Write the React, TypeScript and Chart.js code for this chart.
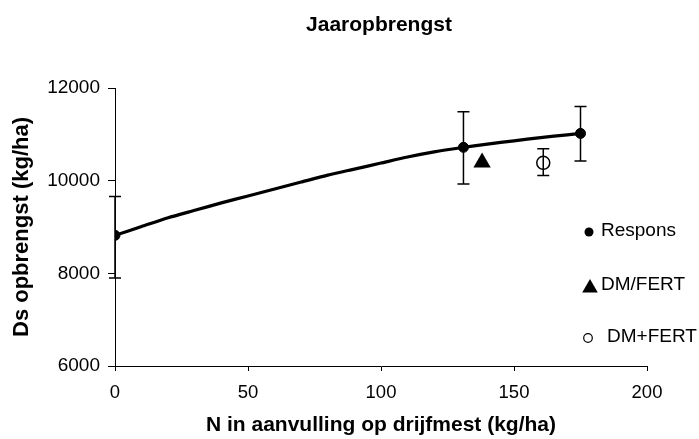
import React, { useEffect, useRef } from "react";
import { Chart, registerables } from "chart.js";

Chart.register(...registerables);

const chartTitle = "Jaaropbrengst";
const xTitle = "N in aanvulling op drijfmest (kg/ha)";
const yTitle = "Ds opbrengst (kg/ha)";
const legendLabels = ["Respons", "DM/FERT", "DM+FERT"];

// response curve
const curveN = [0, 10, 20, 30, 40, 50, 60, 70, 80, 90, 100, 110, 120, 130, 140, 150, 160, 170, 175];
const curveY = [8820, 9010, 9200, 9360, 9520, 9670, 9820, 9970, 10120, 10250, 10380, 10510, 10620, 10710, 10790, 10860, 10930, 10990, 11020];

// measured response points with error bars
const responsN = [0, 131, 175];
const responsY = [8820, 10720, 11020];
const responsLow = [7900, 9930, 10425];
const responsHigh = [9660, 11490, 11600];

// DM/FERT
const dmSlashN = [138];
const dmSlashY = [10390];

// DM+FERT
const dmPlusN = [161];
const dmPlusY = [10385];
const dmPlusLow = [10110];
const dmPlusHigh = [10690];

const xMin = 0, xMax = 200, xStep = 50;
const yMin = 6000, yMax = 12000, yStep = 2000;

const FONT = "'Liberation Sans', Arial, sans-serif";

const toPts = (xs: number[], ys: number[]) => xs.map((x, i) => ({ x, y: ys[i] }));

const errorBarPlugin = {
  id: "errorBars",
  afterDatasetsDraw(chart: any) {
    const { ctx, scales } = chart;
    const sx = scales.x, sy = scales.y;
    const draw = (xs: number[], lo: number[], hi: number[]) => {
      xs.forEach((x, i) => {
        const px = sx.getPixelForValue(x);
        const p1 = sy.getPixelForValue(lo[i]);
        const p2 = sy.getPixelForValue(hi[i]);
        ctx.save();
        ctx.strokeStyle = "#000";
        ctx.lineWidth = 1.5;
        ctx.beginPath();
        ctx.moveTo(px, p1);
        ctx.lineTo(px, p2);
        ctx.moveTo(px - 6, p1);
        ctx.lineTo(px + 6, p1);
        ctx.moveTo(px - 6, p2);
        ctx.lineTo(px + 6, p2);
        ctx.stroke();
        ctx.restore();
      });
    };
    draw(responsN, responsLow, responsHigh);
    draw(dmPlusN, dmPlusLow, dmPlusHigh);
  },
};

const titleLegendPlugin = {
  id: "titleLegend",
  afterDraw(chart: any) {
    const { ctx, chartArea } = chart;
    ctx.save();
    ctx.fillStyle = "#000";
    ctx.textBaseline = "middle";
    ctx.textAlign = "center";
    ctx.font = `bold 21px ${FONT}`;
    ctx.fillText(chartTitle, (chartArea.left + chartArea.right) / 2 - 2, 25);

    ctx.textAlign = "left";
    ctx.font = `19px ${FONT}`;
    // Respons
    ctx.beginPath();
    ctx.arc(589, 232, 4.5, 0, Math.PI * 2);
    ctx.fill();
    ctx.fillText(legendLabels[0], 601, 231);
    // DM/FERT
    const r = 9, cx = 590, cy = 288;
    ctx.beginPath();
    ctx.moveTo(cx, cy - r);
    ctx.lineTo(cx + Math.sin((2 * Math.PI) / 3) * r, cy - Math.cos((2 * Math.PI) / 3) * r);
    ctx.lineTo(cx + Math.sin((4 * Math.PI) / 3) * r, cy - Math.cos((4 * Math.PI) / 3) * r);
    ctx.closePath();
    ctx.fill();
    ctx.fillText(legendLabels[1], 601, 285);
    // DM+FERT
    ctx.beginPath();
    ctx.arc(588, 338, 4.3, 0, Math.PI * 2);
    ctx.fillStyle = "#fff";
    ctx.fill();
    ctx.lineWidth = 1.2;
    ctx.strokeStyle = "#000";
    ctx.stroke();
    ctx.fillStyle = "#000";
    ctx.fillText(legendLabels[2], 607, 337);
    ctx.restore();
  },
};

export default function App() {
  const ref = useRef<HTMLCanvasElement | null>(null);

  useEffect(() => {
    document.body.style.margin = "0";
    Chart.defaults.font.family = FONT;
    Chart.defaults.color = "#000";
    const chart = new Chart(ref.current as HTMLCanvasElement, {
      type: "scatter",
      data: {
        datasets: [
          {
            label: "curve",
            data: toPts(curveN, curveY),
            showLine: true,
            borderColor: "#000",
            borderWidth: 3.2,
            pointRadius: 0,
            tension: 0.2,
          },
          {
            label: legendLabels[0],
            data: toPts(responsN, responsY),
            pointRadius: 5,
            pointStyle: "circle",
            backgroundColor: "#000",
            borderColor: "#000",
          },
          {
            label: legendLabels[1],
            data: toPts(dmSlashN, dmSlashY),
            pointRadius: 10,
            pointStyle: "triangle",
            backgroundColor: "#000",
            borderColor: "#000",
            borderWidth: 0,
          },
          {
            label: legendLabels[2],
            data: toPts(dmPlusN, dmPlusY),
            pointRadius: 6.5,
            pointStyle: "circle",
            backgroundColor: "#fff",
            borderColor: "#000",
            borderWidth: 1.5,
          },
        ] as any,
      },
      options: {
        animation: false,
        responsive: false,
        devicePixelRatio: 1,
        layout: { padding: { top: 88, right: 52, bottom: 0, left: 0 } },
        plugins: {
          legend: { display: false },
          tooltip: { enabled: false },
          title: { display: false },
        },
        scales: {
          x: {
            type: "linear",
            min: xMin,
            max: xMax,
            ticks: {
              stepSize: xStep,
              padding: 11,
              font: { size: 18.5 },
              color: "#000",
              callback: (v: any) => String(v),
            },
            grid: { drawOnChartArea: false, drawTicks: true, tickLength: 5, color: "#000" },
            border: { display: true, color: "#000", width: 1 },
            title: {
              display: true,
              text: xTitle,
              font: { size: 21, weight: "bold" },
              color: "#000",
              padding: { top: 0, bottom: 1 },
            },
            afterFit: (s: any) => {
              s.height = 73;
            },
          },
          y: {
            type: "linear",
            min: yMin,
            max: yMax,
            ticks: {
              stepSize: yStep,
              padding: 8,
              font: { size: 19 },
              color: "#000",
              callback: (v: any) => String(v),
            },
            grid: { drawOnChartArea: false, drawTicks: true, tickLength: 7, color: "#000" },
            border: { display: true, color: "#000", width: 1 },
            title: {
              display: true,
              text: yTitle,
              font: { size: 22, weight: "bold" },
              color: "#000",
              padding: { top: 9, bottom: 0 },
            },
            afterFit: (s: any) => {
              s.width = 115;
            },
          },
        },
      } as any,
      plugins: [errorBarPlugin, titleLegendPlugin],
    });
    return () => chart.destroy();
  }, []);

  return (
    <div style={{ width: 699, height: 439 }}>
      <canvas ref={ref} width={699} height={439} />
    </div>
  );
}
